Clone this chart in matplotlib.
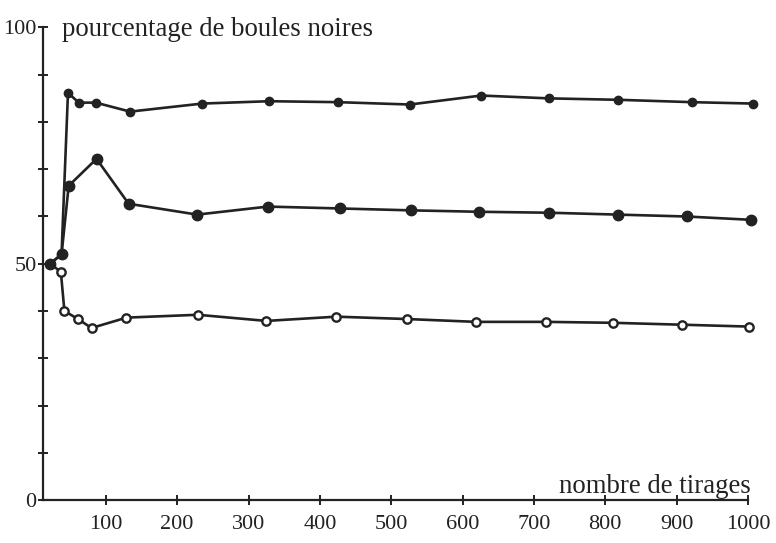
import matplotlib.pyplot as plt

# nombre de tirages
x_haut = [22, 38, 47, 62, 86, 134, 235, 329, 425, 526, 626, 721, 818, 921, 1007]
y_haut = [50, 52, 86.2, 84.1, 84.1, 82.2, 83.9, 84.4, 84.2, 83.7, 85.6, 85.0, 84.7, 84.2, 83.9]

x_milieu = [22, 38, 48, 87, 132, 228, 327, 428, 528, 623, 721, 818, 914, 1004]
y_milieu = [50, 52, 66.5, 72.2, 62.7, 60.4, 62.1, 61.7, 61.3, 61.0, 60.8, 60.4, 60.0, 59.3]

x_bas = [22, 37, 42, 61, 80, 129, 229, 325, 423, 522, 619, 717, 811, 907, 1002]
y_bas = [50, 48.3, 40.0, 38.3, 36.4, 38.6, 39.2, 37.9, 38.8, 38.3, 37.7, 37.7, 37.5, 37.1, 36.7]

x_ticks = [100, 200, 300, 400, 500, 600, 700, 800, 900, 1000]
y_ticks = list(range(0, 101, 10))
y_labels = {0: '0', 50: '50', 100: '100'}

plt.rcParams['font.family'] = ['Liberation Serif', 'DejaVu Serif']
ink = '#222222'

fig = plt.figure(figsize=(7.76, 5.43), dpi=100)
ax = fig.add_axes([43 / 776, 1 - 500 / 543, (748 - 43) / 776, (500 - 27.5) / 543])

# open circles first so the shared black start point sits on top
ax.plot(x_bas, y_bas, color=ink, lw=1.9, marker='o', ms=6, mfc='white', mec=ink, mew=1.7, clip_on=False)
ax.plot(x_haut, y_haut, color=ink, lw=1.9, marker='o', ms=6, mfc=ink, mec=ink, clip_on=False)
ax.plot(x_milieu, y_milieu, color=ink, lw=1.9, marker='o', ms=7.5, mfc=ink, mec=ink, clip_on=False)

ax.set_xlim(12, 1000)
ax.set_ylim(0, 100)

for side in ['top', 'right']:
    ax.spines[side].set_visible(False)
for side in ['left', 'bottom']:
    ax.spines[side].set_linewidth(1.6)
    ax.spines[side].set_color(ink)

ax.set_xticks(x_ticks)
ax.set_yticks(y_ticks)
ax.set_yticklabels([y_labels.get(v, '') for v in y_ticks])
ax.tick_params(axis='both', direction='inout', length=7, width=1.4, color=ink,
               labelsize=16, labelcolor=ink)
ax.tick_params(axis='y', pad=1)
ax.tick_params(axis='x', pad=7)

ax.text(62 / 776, 1 - 30 / 543, 'pourcentage de boules noires', transform=fig.transFigure,
        fontsize=19.3, color=ink, ha='left', va='center')
ax.text(751 / 776, 1 - 493 / 543, 'nombre de tirages', transform=fig.transFigure,
        fontsize=19.3, color=ink, ha='right', va='baseline')

fig.savefig('out.png', dpi=100)
